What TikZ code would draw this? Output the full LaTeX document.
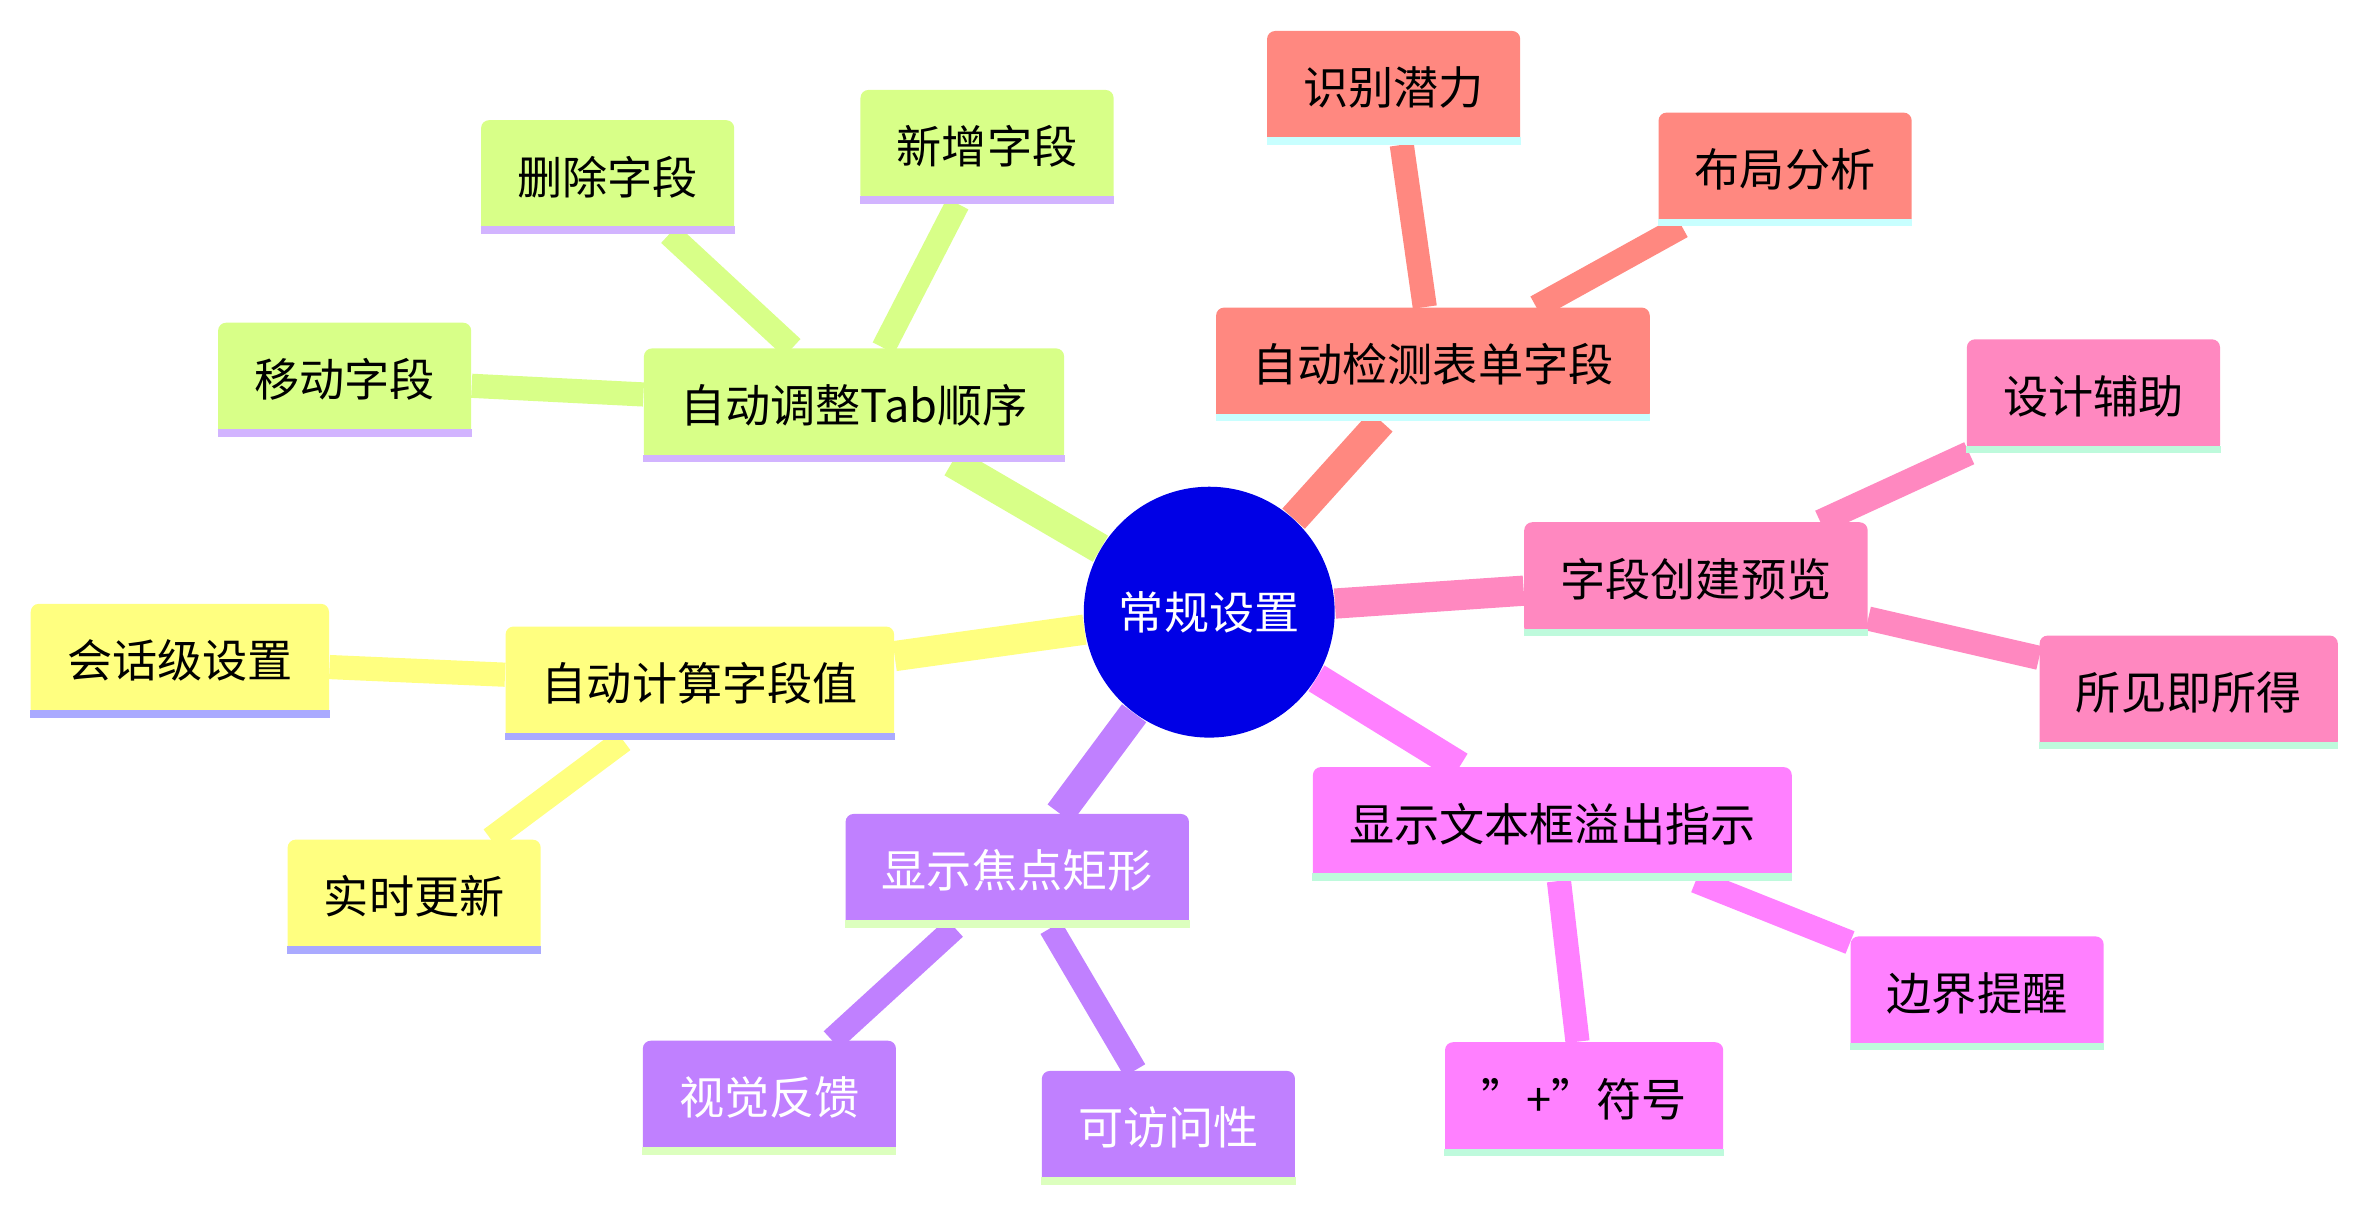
\documentclass[tikz,border=0pt]{standalone}
\usepackage{fontspec}
\setmainfont{Noto Sans CJK SC}
\usetikzlibrary{backgrounds}
\definecolor{rootblue}{RGB}{0,0,230}
\definecolor{cred}{RGB}{255,136,128}
\definecolor{cpink}{RGB}{255,136,192}
\definecolor{cmag}{RGB}{255,128,255}
\definecolor{cpurp}{RGB}{192,128,255}
\definecolor{cyel}{RGB}{255,255,128}
\definecolor{cgreen}{RGB}{216,255,136}
\definecolor{scyan}{RGB}{200,255,255}
\definecolor{smint}{RGB}{190,250,220}
\definecolor{slime}{RGB}{220,255,190}
\definecolor{slav}{RGB}{170,170,255}
\definecolor{slil}{RGB}{210,180,255}
\tikzset{
  box/.style={rounded corners=3pt, inner xsep=0.48cm, minimum height=1.5cm,
    font=\fontsize{17}{20}\selectfont},
  branch/.style={line width=0.4cm},
  twig/.style={line width=0.32cm},
}
\begin{document}
\begin{tikzpicture}[x=0.02cm,y=-0.02cm]
\useasboundingbox (0,0) rectangle (1560,800);
\node[circle, fill=rootblue, text=white, minimum size=3.32cm, font=\fontsize{17}{20}\selectfont] (root) at (800,405) {常规设置};

\node[box, fill=cred] (detect) at (948,241) {自动检测表单字段};
\node[box, fill=cred] (potential) at (922,58) {识别潜力};
\node[box, fill=cred] (layout) at (1181,112) {布局分析};

\node[box, fill=cpink] (preview) at (1122,383) {字段创建预览};
\node[box, fill=cpink] (design) at (1385,262) {设计辅助};
\node[box, fill=cpink] (wysiwyg) at (1448,458) {所见即所得};

\node[box, fill=cmag] (overflow) at (1027,545) {显示文本框溢出指示};
\node[box, fill=cmag] (border) at (1308,657) {边界提醒};
\node[box, fill=cmag] (plus) at (1048,727) {"+"符号};

\node[box, fill=cpurp, text=white] (focus) at (673,576) {显示焦点矩形};
\node[box, fill=cpurp, text=white] (visual) at (509,726) {视觉反馈};
\node[box, fill=cpurp, text=white] (access) at (773,746) {可访问性};

\node[box, fill=cyel] (calc) at (463,452) {自动计算字段值};
\node[box, fill=cyel] (session) at (119,437) {会话级设置};
\node[box, fill=cyel] (realtime) at (274,593) {实时更新};

\node[box, fill=cgreen] (tab) at (565,268) {自动调整Tab顺序};
\node[box, fill=cgreen] (move) at (228,251) {移动字段};
\node[box, fill=cgreen] (delete) at (402,117) {删除字段};
\node[box, fill=cgreen] (add) at (653,97) {新增字段};

% bottom strips
\foreach \n/\c in {detect/scyan, potential/scyan, layout/scyan,
  preview/smint, design/smint, wysiwyg/smint,
  overflow/smint, border/smint, plus/smint,
  focus/slime, visual/slime, access/slime,
  calc/slav, session/slav, realtime/slav,
  tab/slil, move/slil, delete/slil, add/slil}
  \draw[\c, line width=0.1cm] ([yshift=0.05cm]\n.south west) -- ([yshift=0.05cm]\n.south east);

\begin{scope}[on background layer]
  \draw[branch, cred] (root) -- (detect);
  \draw[twig, cred] (detect) -- (potential);
  \draw[twig, cred] (detect) -- (layout);
  \draw[branch, cpink] (root) -- (preview);
  \draw[twig, cpink] (preview) -- (design);
  \draw[twig, cpink] (preview) -- (wysiwyg);
  \draw[branch, cmag] (root) -- (overflow);
  \draw[twig, cmag] (overflow) -- (border);
  \draw[twig, cmag] (overflow) -- (plus);
  \draw[branch, cpurp] (root) -- (focus);
  \draw[twig, cpurp] (focus) -- (visual);
  \draw[twig, cpurp] (focus) -- (access);
  \draw[branch, cyel] (root) -- (calc);
  \draw[twig, cyel] (calc) -- (session);
  \draw[twig, cyel] (calc) -- (realtime);
  \draw[branch, cgreen] (root) -- (tab);
  \draw[twig, cgreen] (tab) -- (move);
  \draw[twig, cgreen] (tab) -- (delete);
  \draw[twig, cgreen] (tab) -- (add);
\end{scope}
\end{tikzpicture}
\end{document}
